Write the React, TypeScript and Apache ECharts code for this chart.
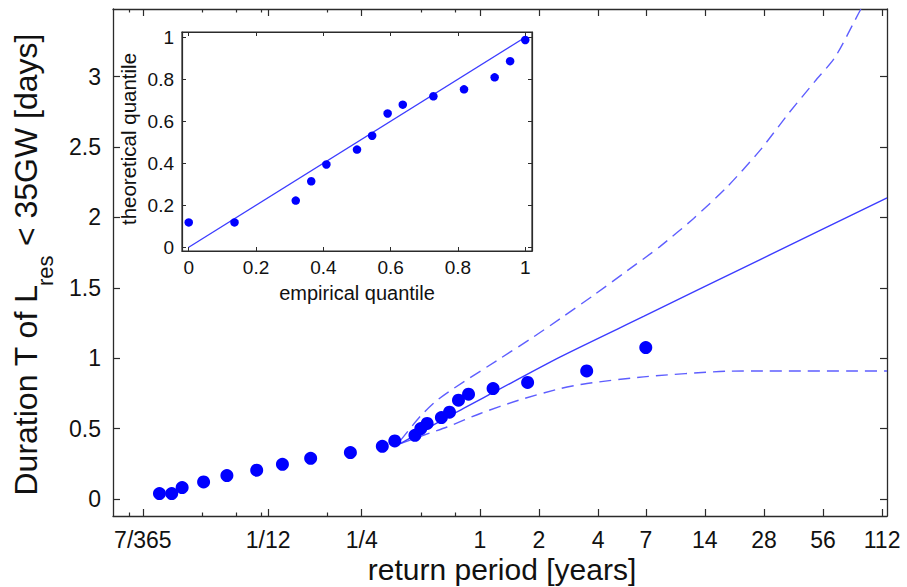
import { useEffect, useRef } from 'react';
import * as echarts from 'echarts';

// ---- main panel: observed durations vs. return period ----
const returnPeriodYears = [0.0233, 0.0269, 0.0304, 0.0391, 0.0514, 0.0729, 0.0986, 0.1373, 0.2188, 0.3182, 0.3684, 0.4667, 0.5, 0.5385, 0.6364, 0.7, 0.7778, 0.875, 1.167, 1.75, 3.5, 7.0];
const durationDays = [0.039, 0.039, 0.082, 0.122, 0.167, 0.205, 0.247, 0.29, 0.33, 0.375, 0.413, 0.453, 0.501, 0.537, 0.579, 0.617, 0.702, 0.745, 0.785, 0.828, 0.91, 1.076];

// fitted return level curve and its confidence bounds
const fitYears = [0.393, 0.735, 1.152, 2.569, 6.82, 26.8, 118.7];
const fitDays = [0.394, 0.607, 0.752, 1.01, 1.297, 1.701, 2.139];
const upperYears = [0.393, 0.5, 0.6, 0.735, 1.27, 1.878, 2.569, 3.8, 5.62, 8.23, 12.27, 18.18, 26.8, 37.4, 50.9, 64.7, 86.8, 100];
const upperDays = [0.415, 0.592, 0.698, 0.786, 0.999, 1.152, 1.282, 1.448, 1.621, 1.791, 1.993, 2.217, 2.478, 2.739, 2.966, 3.141, 3.473, 3.62];
const lowerYears = [0.393, 0.52, 0.68, 1.005, 1.575, 2.569, 3.51, 6.82, 18.2, 29.0, 118.7];
const lowerDays = [0.394, 0.455, 0.512, 0.608, 0.702, 0.785, 0.821, 0.868, 0.908, 0.91, 0.91];

// x ticks (years)
const xTickYears = [7 / 365, 1 / 12, 1 / 4, 1, 2, 4, 7, 14, 28, 56, 112];
const xTickLabels = ['7/365', '1/12', '1/4', '1', '2', '4', '7', '14', '28', '56', '112'];
const xMinorTickYears = [6 / 365, 14 / 365, 21 / 365, 28 / 365, 1 / 6, 1 / 2, 3 / 4];
const yTicks = [0, 0.5, 1, 1.5, 2, 2.5, 3];

// ---- inset: QQ plot ----
const empiricalQuantile = [0, 0.136, 0.318, 0.364, 0.409, 0.5, 0.545, 0.591, 0.636, 0.727, 0.818, 0.909, 0.955, 1.0];
const theoreticalQuantile = [0.118, 0.118, 0.222, 0.314, 0.394, 0.465, 0.531, 0.637, 0.679, 0.719, 0.752, 0.809, 0.886, 0.987];
const insetTicks = [0, 0.2, 0.4, 0.6, 0.8, 1];

const FONT = '"Liberation Sans", Arial, sans-serif';
const AX = '#2b2b2b';
const TXT = '#111';
const X_MIN = -6.21;
const X_MAX = 6.89;

const log2 = (v: number) => Math.log(v) / Math.LN2;
const majorLog = xTickYears.map(log2);
const minorLog = xMinorTickYears.map(log2);

const fmtX = (v: number) => {
  const i = majorLog.findIndex((m) => Math.abs(m - v) < 1e-6);
  return i >= 0 ? xTickLabels[i] : '';
};
const fmtInset = (v: number) => String(Math.round(v * 10) / 10);

function xAxisBase(extra: any) {
  return {
    type: 'value',
    min: X_MIN,
    max: X_MAX,
    splitLine: { show: false },
    ...extra,
  };
}

export default function App() {
  const ref = useRef<HTMLDivElement>(null);
  useEffect(() => {
    if (!ref.current) return;
    const chart = echarts.init(ref.current, null, { renderer: 'svg' });
    const line = (xs: number[], ys: number[], dashed: boolean) => ({
      type: 'line',
      xAxisIndex: 0,
      yAxisIndex: 0,
      data: xs.map((x, i) => [log2(x), ys[i]]),
      showSymbol: false,
      symbol: 'none',
      smooth: 0.25,
      clip: true,
      lineStyle: dashed
        ? { color: '#5e5eff', width: 1.4, type: [12, 7] }
        : { color: '#3c3cff', width: 1.4 },
      z: 2,
    });
    const option: any = {
      animation: false,
      backgroundColor: '#fff',
      grid: [
        { left: 113, right: 20, top: 9, bottom: 71, show: false },
        { left: 182, top: 32, width: 350, height: 219, show: true, backgroundColor: '#fff', borderColor: AX, borderWidth: 1.2 },
      ],
      xAxis: [
        xAxisBase({
          gridIndex: 0,
          position: 'bottom',
          axisLine: { show: true, onZero: false, lineStyle: { color: AX, width: 1.3 } },
          axisTick: { show: true, inside: true, length: 7, customValues: majorLog, lineStyle: { color: AX, width: 1.2 } },
          axisLabel: { show: true, customValues: majorLog, formatter: fmtX, fontSize: 23, fontFamily: FONT, color: TXT, margin: 12 },
        }),
        xAxisBase({
          gridIndex: 0,
          position: 'bottom',
          axisLine: { show: false, onZero: false },
          axisTick: { show: true, inside: true, length: 3.5, customValues: minorLog, lineStyle: { color: AX, width: 1.2 } },
          axisLabel: { show: false },
        }),
        xAxisBase({
          gridIndex: 0,
          position: 'top',
          axisLine: { show: true, onZero: false, lineStyle: { color: AX, width: 1.3 } },
          axisTick: { show: true, inside: true, length: 7, customValues: majorLog, lineStyle: { color: AX, width: 1.2 } },
          axisLabel: { show: false },
        }),
        xAxisBase({
          gridIndex: 0,
          position: 'top',
          axisLine: { show: false, onZero: false },
          axisTick: { show: true, inside: true, length: 3.5, customValues: minorLog, lineStyle: { color: AX, width: 1.2 } },
          axisLabel: { show: false },
        }),
        {
          type: 'value',
          gridIndex: 1,
          position: 'bottom',
          min: -0.02,
          max: 1.02,
          splitLine: { show: false },
          axisLine: { show: true, onZero: false, lineStyle: { color: AX, width: 1.2 } },
          axisTick: { show: true, inside: true, length: 4, customValues: insetTicks, lineStyle: { color: AX } },
          axisLabel: { show: true, customValues: insetTicks, formatter: fmtInset, fontSize: 19, fontFamily: FONT, color: TXT, margin: 7 },
          name: 'empirical quantile',
          nameLocation: 'middle',
          nameGap: 32,
          nameTextStyle: { fontSize: 20, fontFamily: FONT, color: TXT },
        },
        {
          type: 'value',
          gridIndex: 1,
          position: 'top',
          min: -0.02,
          max: 1.02,
          splitLine: { show: false },
          axisLine: { show: true, onZero: false, lineStyle: { color: AX, width: 1.2 } },
          axisTick: { show: true, inside: true, length: 4, customValues: insetTicks, lineStyle: { color: AX } },
          axisLabel: { show: false },
        },
      ],
      yAxis: [
        {
          type: 'value',
          gridIndex: 0,
          position: 'left',
          min: -0.12,
          max: 3.48,
          splitLine: { show: false },
          axisLine: { show: true, onZero: false, lineStyle: { color: AX, width: 1.3 } },
          axisTick: { show: true, inside: true, length: 7, customValues: yTicks, lineStyle: { color: AX, width: 1.2 } },
          axisLabel: { show: true, customValues: yTicks, formatter: (v: number) => String(v), fontSize: 23, fontFamily: FONT, color: TXT, margin: 12 },
        },
        {
          type: 'value',
          gridIndex: 0,
          position: 'right',
          min: -0.12,
          max: 3.48,
          splitLine: { show: false },
          axisLine: { show: true, onZero: false, lineStyle: { color: AX, width: 1.3 } },
          axisTick: { show: true, inside: true, length: 7, customValues: yTicks, lineStyle: { color: AX, width: 1.2 } },
          axisLabel: { show: false },
        },
        {
          type: 'value',
          gridIndex: 1,
          position: 'left',
          min: -0.018,
          max: 1.025,
          splitLine: { show: false },
          axisLine: { show: true, onZero: false, lineStyle: { color: AX, width: 1.2 } },
          axisTick: { show: true, inside: true, length: 4, customValues: insetTicks, lineStyle: { color: AX } },
          axisLabel: { show: true, customValues: insetTicks, formatter: fmtInset, fontSize: 19, fontFamily: FONT, color: TXT, margin: 8 },
        },
        {
          type: 'value',
          gridIndex: 1,
          position: 'right',
          min: -0.018,
          max: 1.025,
          splitLine: { show: false },
          axisLine: { show: true, onZero: false, lineStyle: { color: AX, width: 1.2 } },
          axisTick: { show: true, inside: true, length: 4, customValues: insetTicks, lineStyle: { color: AX } },
          axisLabel: { show: false },
        },
      ],
      series: [
        line(upperYears, upperDays, true),
        line(lowerYears, lowerDays, true),
        line(fitYears, fitDays, false),
        {
          type: 'scatter',
          xAxisIndex: 0,
          yAxisIndex: 0,
          data: returnPeriodYears.map((t, i) => [log2(t), durationDays[i]]),
          symbolSize: 13,
          itemStyle: { color: '#0000ff', opacity: 1 },
          z: 3,
        },
        {
          type: 'line',
          xAxisIndex: 4,
          yAxisIndex: 2,
          data: [[0, 0], [1, 1]],
          showSymbol: false,
          symbol: 'none',
          lineStyle: { color: '#3c3cff', width: 1.3 },
          z: 4,
        },
        {
          type: 'scatter',
          xAxisIndex: 4,
          yAxisIndex: 2,
          data: empiricalQuantile.map((e, i) => [e, theoreticalQuantile[i]]),
          symbolSize: 8.5,
          itemStyle: { color: '#0000ff', opacity: 1 },
          z: 5,
        },
      ],
      graphic: [
        {
          type: 'text',
          x: 26,
          y: 285,
          rotation: Math.PI / 2,
          style: { text: 'Duration T of L', fontSize: 32, fontFamily: FONT, fill: TXT, align: 'right', verticalAlign: 'middle' },
        },
        {
          type: 'text',
          x: 45,
          y: 286,
          rotation: Math.PI / 2,
          style: { text: 'res', fontSize: 22, fontFamily: FONT, fill: TXT, align: 'left', verticalAlign: 'middle' },
        },
        {
          type: 'text',
          x: 26,
          y: 255,
          rotation: Math.PI / 2,
          style: { text: ' < 35GW [days]', fontSize: 32, fontFamily: FONT, fill: TXT, align: 'left', verticalAlign: 'middle' },
        },
        {
          type: 'text',
          x: 502,
          y: 569,
          style: { text: 'return period [years]', fontSize: 30, fontFamily: FONT, fill: TXT, align: 'center', verticalAlign: 'middle' },
        },
        {
          type: 'text',
          x: 128,
          y: 139,
          rotation: Math.PI / 2,
          style: { text: 'theoretical quantile', fontSize: 20.5, fontFamily: FONT, fill: TXT, align: 'center', verticalAlign: 'middle' },
        },
      ],
    };
    chart.setOption(option);
    return () => chart.dispose();
  }, []);
  return <div ref={ref} style={{ position: 'fixed', left: 0, top: 0, width: 907, height: 587 }} />;
}
